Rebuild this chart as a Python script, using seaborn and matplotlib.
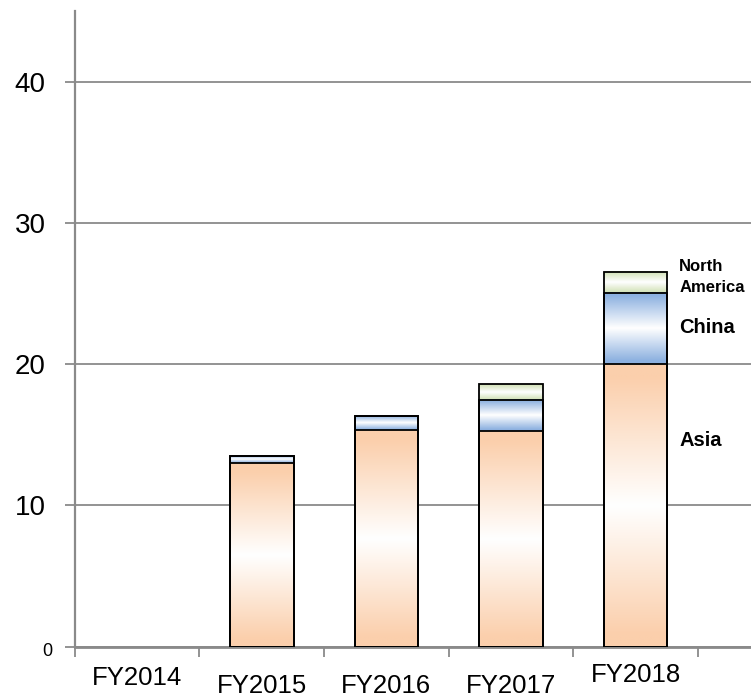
import numpy as np
import pandas as pd
import matplotlib
matplotlib.use("Agg")
import matplotlib.pyplot as plt
import matplotlib.transforms as mtransforms
from matplotlib.colors import to_rgb
import seaborn as sns

# ---- data ----
years = ["FY2014", "FY2015", "FY2016", "FY2017", "FY2018"]
asia = [0.0, 13.0, 15.35, 15.28, 20.0]
china = [0.0, 0.5, 1.0, 2.2, 5.05]
north_america = [0.0, 0.0, 0.0, 1.1, 1.5]
y_ticks = [0, 10, 20, 30, 40]

# label offsets (points) to mimic the staggered category labels
label_dy = [3.5, -2.0, -2.0, -2.5, 6.0]

sns.set_theme(style="white")
plt.rcParams["font.family"] = ["Liberation Sans", "DejaVu Sans"]

fig = plt.figure(figsize=(7.51, 6.98), dpi=100)
ax = fig.add_axes([0.0995, 0.0735, 0.9005, 0.9103])

df = pd.DataFrame({"year": years, "Asia": asia, "China": china,
                   "North America": north_america})
df["lvl_asia"] = df["Asia"]
df["lvl_china"] = df["Asia"] + df["China"]
df["lvl_na"] = df["lvl_china"] + df["North America"]

peach = "#FBCFAC"
blue = "#8DB1E0"
green = "#D3E2B8"

segments = [("lvl_na", "lvl_china", green),
            ("lvl_china", "lvl_asia", blue),
            ("lvl_asia", None, peach)]


def gradient(color, n=256):
    c = np.array(to_rgb(color))
    w = np.ones(3)
    t = np.linspace(0, 1, n)
    f = np.clip(np.abs(2 * t - 1) * 1.1, 0, 1)[:, None]
    return (w + (c - w) * f)[:, None, :]


for top_col, bottom_col, col in segments:
    n0 = len(ax.patches)
    sns.barplot(data=df, x="year", y=top_col, order=years, width=0.51,
                color="white", errorbar=None, ax=ax)
    new = ax.patches[n0:]
    for i, p in enumerate(new):
        top = p.get_height()
        bottom = df[bottom_col].iloc[i] if bottom_col else 0.0
        p.set_facecolor("none")
        p.set_edgecolor("black")
        p.set_zorder(4)
        if top <= 0:
            p.set_linewidth(0)
            continue
        p.set_linewidth(1.3)
        if top - bottom > 0:
            x0 = p.get_x()
            w = p.get_width()
            ax.imshow(gradient(col), extent=(x0, x0 + w, bottom, top),
                      origin="lower", aspect="auto", zorder=3,
                      interpolation="bilinear")

ax.set_xlim(-0.5, 4.925)
ax.set_ylim(0, 45)
ax.set_xlabel("")
ax.set_ylabel("")

# grid
ax.set_yticks(y_ticks)
ax.yaxis.grid(True, color="#8a8a8a", linewidth=1.3)
ax.xaxis.grid(False)
ax.set_axisbelow(True)

# spines
for s in ["top", "right"]:
    ax.spines[s].set_visible(False)
ax.spines["left"].set_color("#8a8a8a")
ax.spines["left"].set_linewidth(1.6)
ax.spines["bottom"].set_color("#8a8a8a")
ax.spines["bottom"].set_linewidth(2.0)

# ticks
ax.set_xticks(range(len(years)))
ax.set_xticklabels(years, fontsize=18.5)
ax.set_xticks(np.arange(-0.5, len(years), 1.0), minor=True)
ax.tick_params(axis="x", which="both", bottom=True)
ax.tick_params(axis="y", which="both", left=True)
ax.tick_params(axis="x", which="major", length=0, pad=17.5, labelcolor="black")
ax.tick_params(axis="x", which="minor", length=7, width=1.3,
               color="#8a8a8a", direction="out")
ax.tick_params(axis="y", which="major", length=7, width=1.3,
               color="#8a8a8a", direction="out", labelsize=20, pad=14,
               labelcolor="black")

for lab, dy in zip(ax.get_xticklabels(), label_dy):
    lab.set_transform(lab.get_transform() +
                      mtransforms.ScaledTranslation(0, dy / 72, fig.dpi_scale_trans))

ylabs = ax.get_yticklabels()
ylabs[0].set_fontsize(13)
ylabs[0].set_transform(ylabs[0].get_transform() +
                       mtransforms.ScaledTranslation(5 / 72, -2 / 72, fig.dpi_scale_trans))

# region labels
ax.text(4.35, 26.2, "North\nAmerica", fontsize=12, fontweight="bold",
        ha="left", va="center", linespacing=1.5, color="black")
ax.text(4.35, 22.64, "China", fontsize=14.5, fontweight="bold",
        ha="left", va="center", color="black")
ax.text(4.35, 14.57, "Asia", fontsize=14.5, fontweight="bold",
        ha="left", va="center", color="black")

fig.savefig("out.png", dpi=100)
